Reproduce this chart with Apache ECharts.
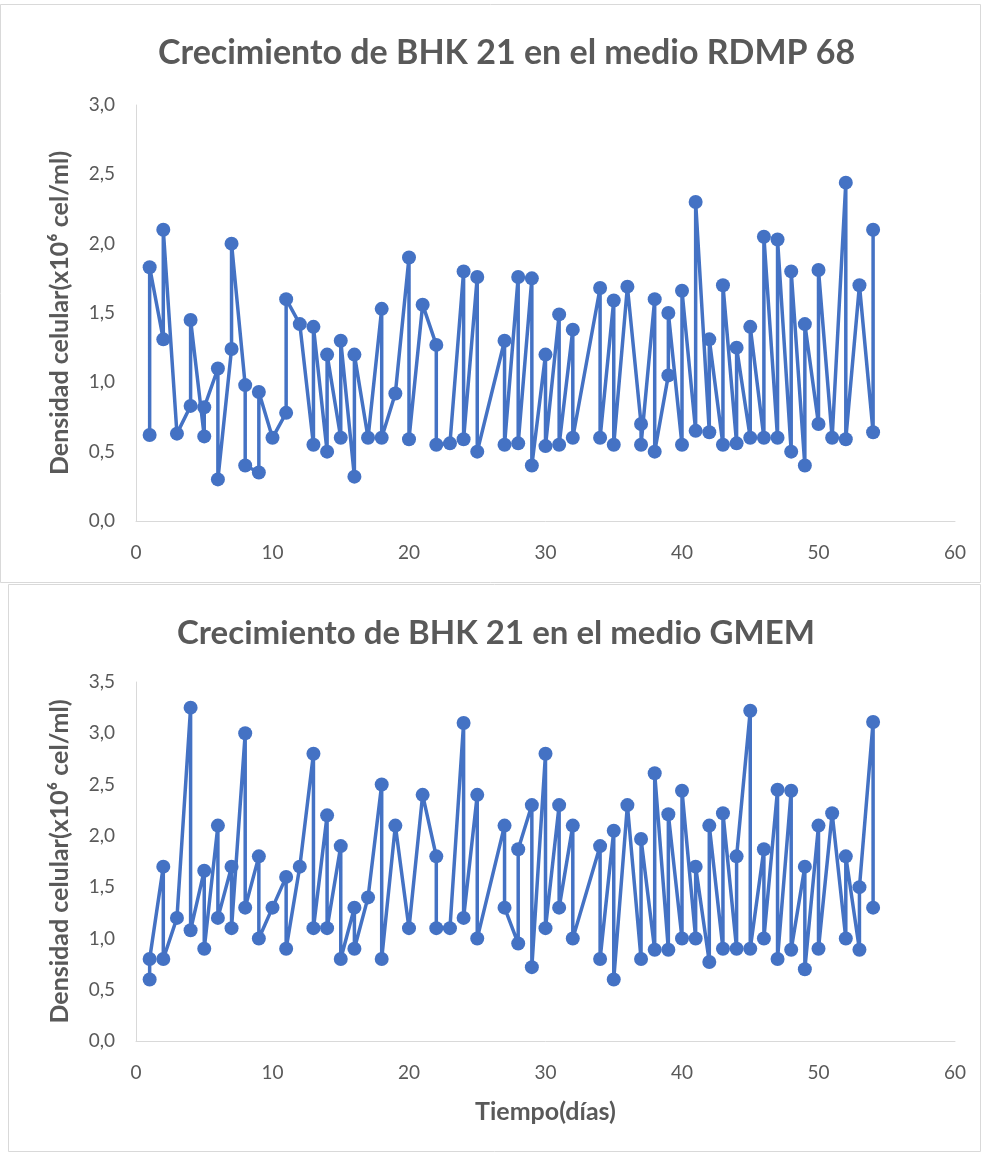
<!DOCTYPE html>
<html><head><meta charset="utf-8">
<script src="https://cdn.jsdelivr.net/npm/echarts@6/dist/echarts.min.js"></script>
<style>html,body{margin:0;padding:0;background:#fff}#c{width:982px;height:1154px}</style>
</head><body><div id="c"></div>
<script>
// Top chart: RDMP 68
var topTitle = "Crecimiento de BHK 21 en el medio RDMP 68";
var topDays = [1,1,2,2,3,4,4,5,5,6,6,7,7,8,8,9,9,10,11,11,12,13,13,14,14,15,15,16,16,17,18,18,19,20,20,21,22,22,23,24,24,25,25,27,27,28,28,29,29,30,30,31,31,32,32,34,34,35,35,36,37,37,38,38,39,39,40,40,41,41,42,42,43,43,44,44,45,45,46,46,47,47,48,48,49,49,50,50,51,52,52,53,54,54];
var topValues = [0.62,1.83, 1.31,2.10, 0.63, 0.83,1.45, 0.61,0.82, 1.10,0.30, 1.24,2.00, 0.98,0.40, 0.35,0.93, 0.60, 0.78,1.60, 1.42, 0.55,1.40, 0.50,1.20, 0.60,1.30, 0.32,1.20, 0.60, 1.53,0.60, 0.92, 1.90,0.59, 1.56, 1.27,0.55, 0.56, 1.80,0.59, 1.76,0.50, 1.30,0.55, 1.76,0.56, 1.75,0.40, 1.20,0.54, 1.49,0.55, 1.38,0.60, 1.68,0.60, 1.59,0.55, 1.69, 0.70,0.55, 1.60,0.50, 1.05,1.50, 0.55,1.66, 0.65,2.30, 0.64,1.31, 0.55,1.70, 0.56,1.25, 0.60,1.40, 0.60,2.05, 0.60,2.03, 0.50,1.80, 0.40,1.42, 0.70,1.81, 0.60, 2.44,0.59, 1.70, 0.64,2.10];
// Bottom chart: GMEM
var botTitle = "Crecimiento de BHK 21 en el medio GMEM";
var botDays = [1,1,2,2,3,4,4,5,5,6,6,7,7,8,8,9,9,10,11,11,12,13,13,14,14,15,15,16,16,17,18,18,19,20,21,22,22,23,24,24,25,25,27,27,28,28,29,29,30,30,31,31,32,32,34,34,35,35,36,37,37,38,38,39,39,40,40,41,41,42,42,43,43,44,44,45,45,46,46,47,47,48,48,49,49,50,50,51,52,52,53,53,54,54];
var botValues = [0.60,0.80, 1.70,0.80, 1.20, 3.25,1.08, 1.66,0.90, 2.10,1.20, 1.70,1.10, 3.00,1.30, 1.80,1.00, 1.30, 1.60,0.90, 1.70, 2.80,1.10, 2.20,1.10, 1.90,0.80, 1.30,0.90, 1.40, 2.50,0.80, 2.10, 1.10, 2.40, 1.80,1.10, 1.10, 3.10,1.20, 2.40,1.00, 2.10,1.30, 0.95,1.87, 2.30,0.72, 2.80,1.10, 2.30,1.30, 2.10,1.00, 1.90,0.80, 2.05,0.60, 2.30, 0.80,1.97, 0.89,2.61, 0.89,2.21, 1.00,2.44, 1.00,1.70, 0.77,2.10, 0.90,2.22, 0.90,1.80, 3.22,0.90, 1.87,1.00, 2.45,0.80, 2.44,0.89, 1.70,0.70, 2.10,0.90, 2.22, 1.00,1.80, 0.89,1.50, 3.11,1.30];
var xTicks = {min: 0, max: 60, interval: 10};
var yTopTicks = {min: 0, max: 3.0, interval: 0.5};
var yBotTicks = {min: 0, max: 3.5, interval: 0.5};
var yName = "Densidad celular(x10\u2076 cel/ml)";
var xName = "Tiempo(días)";

function pairs(d, v){ return d.map(function(x,i){ return [x, v[i]]; }); }
var FONT = 'Lato';
var GREY = '#595959';
var AX = '#d9d9d9';
function fmt(v){ return v.toFixed(1).replace('.', ','); }

function xAxisCfg(idx, withName){
  return {
    type:'value', gridIndex: idx, min: xTicks.min, max: xTicks.max, interval: xTicks.interval,
    axisLine:{show:true, lineStyle:{color:AX, width:1}}, axisTick:{show:false}, splitLine:{show:false},
    axisLabel:{color:GREY, fontSize:19, fontFamily:FONT, margin:22},
    name: withName ? xName : '', nameLocation:'middle', nameGap: 58,
    nameTextStyle:{color:GREY, fontSize:25, fontWeight:'bold', fontFamily:FONT}
  };
}
function yAxisCfg(idx, t){
  return {
    type:'value', gridIndex: idx, min:t.min, max:t.max, interval:t.interval,
    axisLine:{show:true, lineStyle:{color:AX, width:1}}, axisTick:{show:false}, splitLine:{show:false},
    axisLabel:{color:GREY, fontSize:19, fontFamily:FONT, margin:21, formatter: fmt},
    name: yName, nameLocation:'middle', nameGap: 64, nameRotate: 90,
    nameTextStyle:{color:GREY, fontSize:25, fontWeight:'bold', fontFamily:FONT}
  };
}
function seriesCfg(idx, data){
  return {
    type:'line', xAxisIndex: idx, yAxisIndex: idx, data: data,
    symbol:'circle', symbolSize: 14, showAllSymbol: true,
    lineStyle:{color:'#4472C4', width:3.5}, itemStyle:{color:'#4472C4'},
    animation:false
  };
}
var chart = echarts.init(document.getElementById('c'), null, {renderer:'canvas'});
chart.setOption({
  backgroundColor:'#fff',
  animation:false,
  title:[
    {text: topTitle, left:153, top:31, textStyle:{color:GREY, fontSize:34, fontWeight:'bold', fontFamily:FONT}},
    {text: botTitle, left:172, top:612, textStyle:{color:GREY, fontSize:33, fontWeight:'bold', fontFamily:FONT}}
  ],
  grid:[
    {left:136, right:27, top:105, height:416},
    {left:136, right:27, top:682, height:359}
  ],
  xAxis:[xAxisCfg(0,false), xAxisCfg(1,true)],
  yAxis:[yAxisCfg(0,yTopTicks), yAxisCfg(1,yBotTicks)],
  series:[seriesCfg(0, pairs(topDays, topValues)), seriesCfg(1, pairs(botDays, botValues))],
  graphic:[
    {type:'rect', shape:{x:0.5, y:4.5, width:980, height:578}, style:{fill:null, stroke:'#d9d9d9', lineWidth:1}, silent:true},
    {type:'rect', shape:{x:8.5, y:584.5, width:972, height:567}, style:{fill:null, stroke:'#d9d9d9', lineWidth:1}, silent:true}
  ]
});
</script></body></html>
